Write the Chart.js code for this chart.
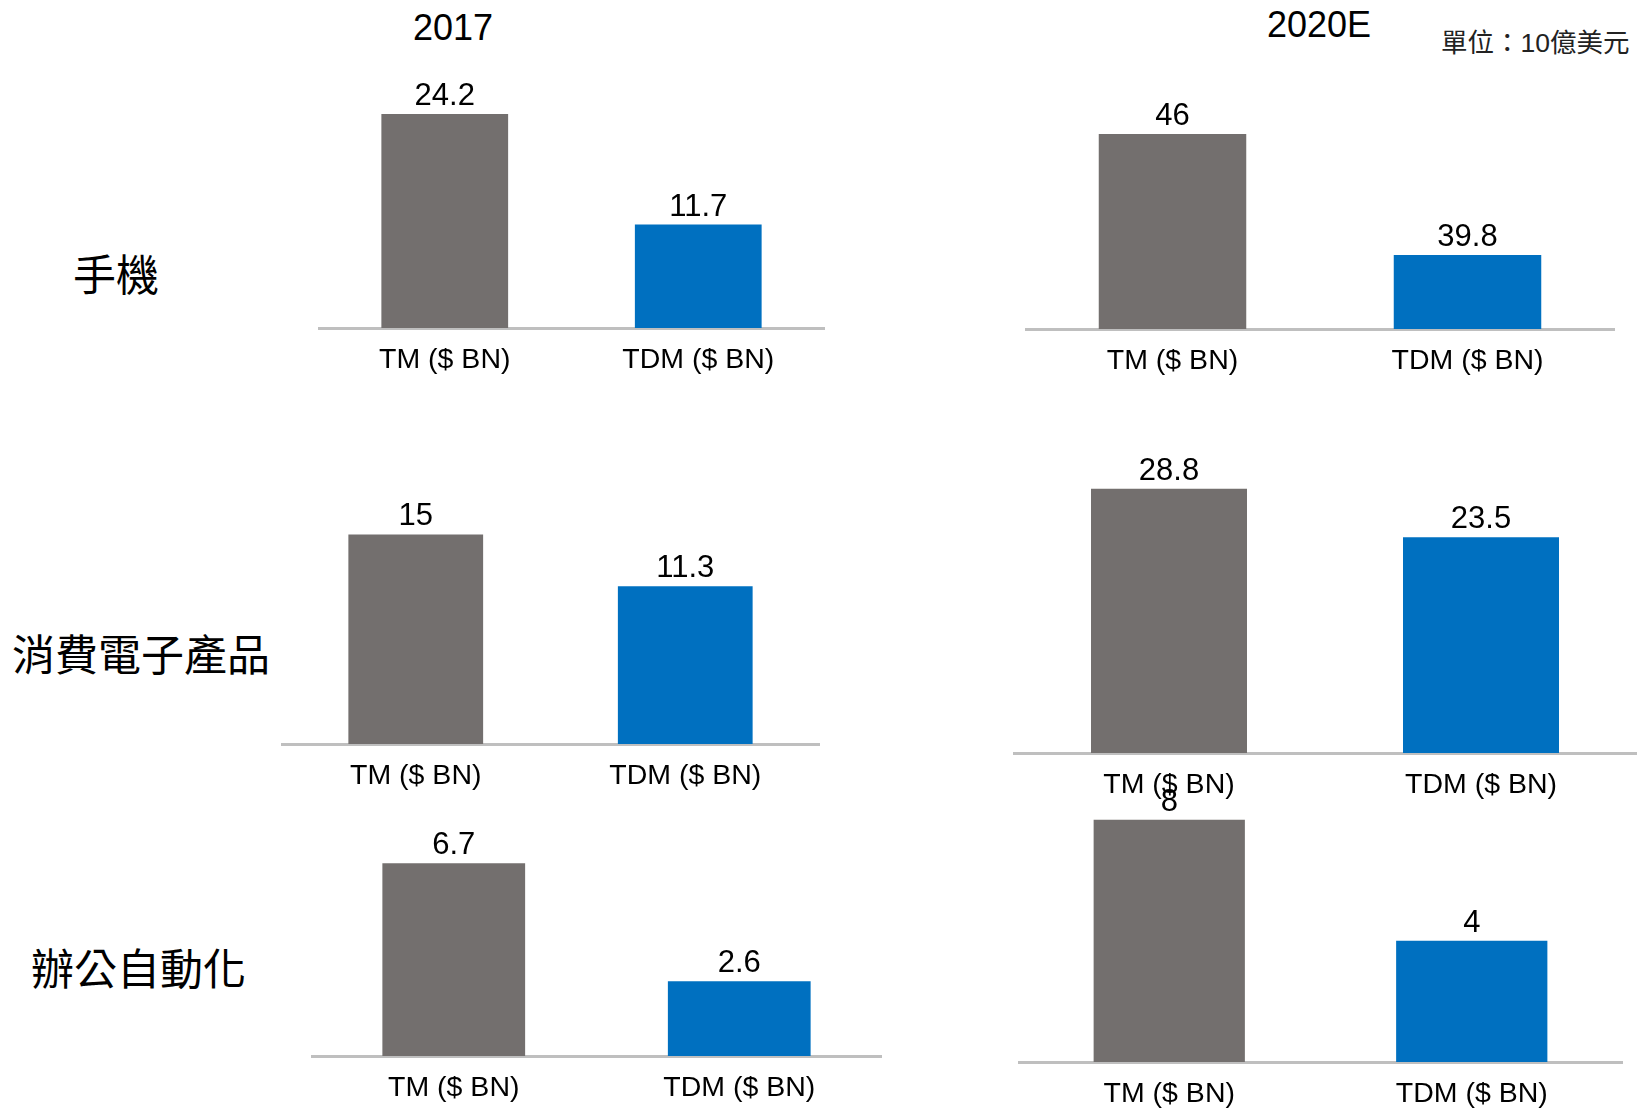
<!DOCTYPE html>
<html>
<head>
<meta charset="utf-8">
<script src="https://cdn.jsdelivr.net/npm/chart.js@4.4.1/dist/chart.umd.min.js"></script>
<style>
  body { margin: 0; background: #fff; width: 1637px; height: 1108px; overflow: hidden; position: relative; }
  canvas { position: absolute; }
  .txt { position: absolute; color: #000; white-space: nowrap; font-family: "Liberation Sans", "Noto Sans CJK TC", sans-serif; }
  .row { font-family: "Noto Sans CJK TC", sans-serif; font-size: 43px; transform: translateY(-50%); }
  .title { font-size: 36px; transform: translate(-50%, -50%); }
</style>
</head>
<body>
<div class="txt title" style="left:453px; top:28px;">2017</div>
<div class="txt title" style="left:1319px; top:25px;">2020E</div>
<div class="txt" style="left:1441px; top:40px; font-size:26.5px; transform:translateY(-50%); color:#222;">單位：10億美元</div>
<div class="txt row" style="left:73px; top:272px;">手機</div>
<div class="txt row" style="left:12px; top:652px;">消費電子產品</div>
<div class="txt row" style="left:31px; top:966px;">辦公自動化</div>

<canvas id="c1"></canvas>
<canvas id="c2"></canvas>
<canvas id="c3"></canvas>
<canvas id="c4"></canvas>
<canvas id="c5"></canvas>
<canvas id="c6"></canvas>

<script>
// data
var categories = ['TM ($ BN)', 'TDM ($ BN)'];
var phone2017 = [24.2, 11.7];
var phone2020 = [46, 39.8];
var consumer2017 = [15, 11.3];
var consumer2020 = [28.8, 23.5];
var office2017 = [6.7, 2.6];
var office2020 = [8, 4];

var barColors = ['#736F6E', '#0070C0'];

// where each little chart sits (pixels) and its value range
var layout = {
    c1: {data: phone2017, left: 318, top: 60, width: 507, baseline: 328, min: 0, max: 30.3},
    // the source draws the 39.8 bar far shorter than 46, so the axis does not start at 0 here
    c2: {data: phone2020, left: 1025, top: 60, width: 590, baseline: 329, min: 36, max: 49.8},
    c3: {data: consumer2017, left: 281, top: 480, width: 539, baseline: 744.5, min: 0, max: 18.9},
    c4: {data: consumer2020, left: 1013, top: 440, width: 624, baseline: 753, min: 0, max: 34.1},
    c5: {data: office2017, left: 311, top: 800, width: 571, baseline: 1056.5, min: 0, max: 8.9},
    c6: {data: office2020, left: 1018, top: 760, width: 605, baseline: 1062, min: 0, max: 9.97}
};
var axisHeight = 50;

var valueLabels = {
    id: 'valueLabels',
    afterDatasetsDraw: function(chart){
        var ctx = chart.ctx;
        var meta = chart.getDatasetMeta(0);
        ctx.save();
        ctx.font = '31px "Liberation Sans", Arial, sans-serif';
        ctx.fillStyle = '#000';
        ctx.textAlign = 'center';
        ctx.textBaseline = 'alphabetic';
        meta.data.forEach(function(bar, i){
            ctx.fillText(String(chart.data.datasets[0].data[i]), bar.x, bar.y - 9);
        });
        ctx.restore();
    }
};

function addChart(id){
    var l = layout[id];
    var el = document.getElementById(id);
    el.width = l.width;
    el.height = (l.baseline - l.top) + axisHeight;
    el.style.left = l.left + 'px';
    el.style.top = l.top + 'px';
    new Chart(el, {
        type: 'bar',
        data: {
            labels: categories,
            datasets: [{
                data: l.data,
                backgroundColor: barColors,
                categoryPercentage: 1,
                barPercentage: 0.5
            }]
        },
        options: {
            responsive: false,
            animation: false,
            layout: {padding: 0},
            plugins: {legend: {display: false}, tooltip: {enabled: false}},
            scales: {
                x: {
                    grid: {display: false, drawTicks: false},
                    border: {display: true, color: '#BFBFBF', width: 3},
                    ticks: {
                        color: '#000',
                        padding: 15,
                        font: {family: '"Liberation Sans", Arial, sans-serif', size: 28.5}
                    },
                    afterFit: function(s){ s.height = axisHeight; }
                },
                y: {display: false, min: l.min, max: l.max}
            }
        },
        plugins: [valueLabels]
    });
}

['c1', 'c2', 'c3', 'c4', 'c5', 'c6'].forEach(addChart);
</script>
</body>
</html>
